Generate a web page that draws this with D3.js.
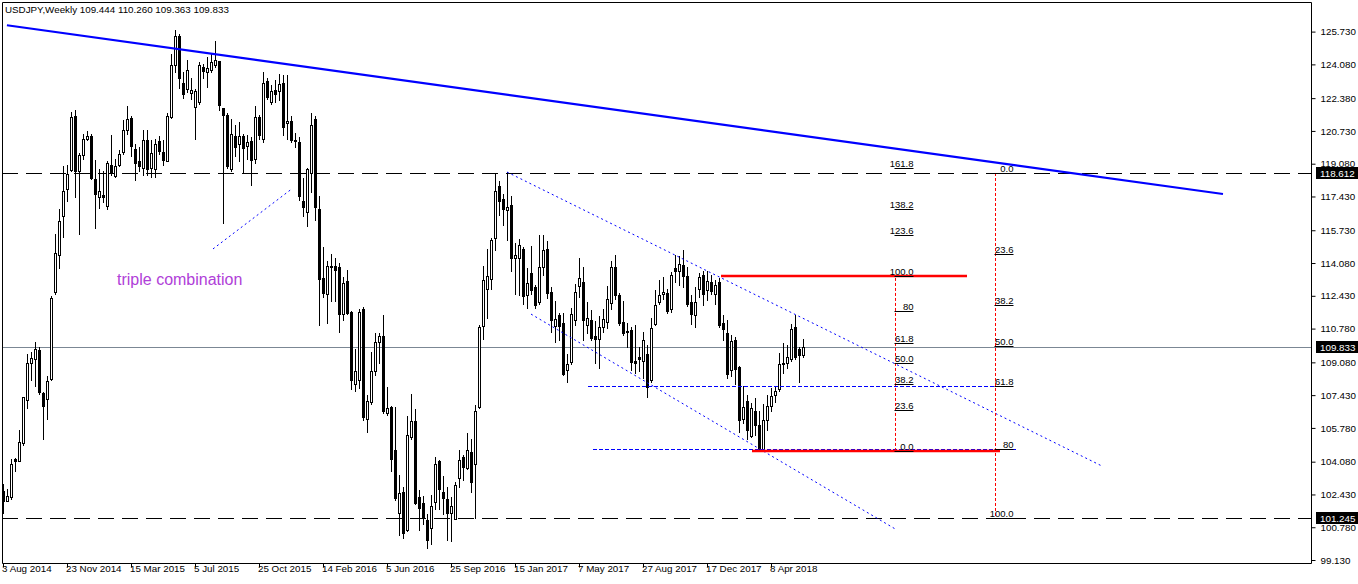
<!DOCTYPE html>
<html><head><meta charset="utf-8">
<script src="https://cdn.jsdelivr.net/npm/d3@7"></script>
<style>
html,body{margin:0;padding:0;background:#fff;}
svg text{font-family:"Liberation Sans",Arial,sans-serif;}
</style></head>
<body>
<svg id="chart" width="1358" height="584"></svg>
<script>
// ---------- data (weekly USDJPY, 3 Aug 2014 .. 3 Jun 2018) ----------
const open = [102.6,102.1,102.3,104.2,104.1,105.0,107.16,109.03,109.27,109.7,107.56,107.25,108.23,112.62,114.48,116.43,117.82,118.74,121.5,118.69,
119.5,120.3,120.45,118.29,117.42,117.5,116.95,119.03,118.48,119.03,119.69,120.77,121.37,119.8,119.2,118.86,120.28,118.85,118.82,120.2,
119.67,119.24,121.43,124.06,125.53,123.14,122.85,122.64,121.95,122.19,123.97,123.71,123.8,124.06,124.23,121.89,121.55,118.82,120.45,120.07,
120.45,119.95,120.2,119.34,121.45,120.33,123.23,122.19,122.8,122.76,123.14,121.11,121.23,120.28,120.16,117.18,116.66,118.6,121.32,116.78,
113.35,112.53,113.87,113.92,113.87,111.49,113.17,111.61,107.97,108.2,111.79,106.24,107.08,108.63,110.11,110.4,106.55,106.81,104.68,101.52,
102.56,100.66,105.3,106.15,102.3,102.01,101.14,100.74,102.04,104.09,102.56,102.18,101.52,101.21,103.26,104.33,103.78,104.56,103.95,106.81,
110.92,112.79,113.28,115.36,117.94,117.3,116.75,116.99,114.32,114.35,114.79,112.45,113.57,112.88,112.1,113.87,114.79,112.62,110.92,111.44,
111.06,108.72,109.1,111.23,112.93,113.1,110.97,111.2,110.4,110.28,110.85,111.09,112.06,113.87,112.45,111.09,110.68,110.71,109.15,109.33,
109.15,109.5,108.2,111.02,112.1,112.53,112.58,111.75,113.83,113.7,113.97,113.45,112.1,111.44,112.76,113.48,112.71,113.14,112.53,113.1,
111.06,110.54,108.72,110.23,108.84,106.23,107.11,105.37,106.64,105.94,104.64,106.2,106.9,107.45,107.73,109.07,109.07,109.24,110.85,109.76,
109.444];
const high = [102.95,102.7,104.2,104.25,105.7,107.35,109.5,109.6,110.1,109.85,107.6,108.37,112.44,115.56,116.78,118.95,119.0,121.67,121.8,119.64,
120.59,120.73,120.59,119.29,118.83,118.7,119.24,120.5,119.3,119.76,121.29,121.98,121.46,120.07,119.93,120.77,120.8,120.25,120.33,120.45,
120.25,121.63,124.58,125.83,125.62,123.71,124.32,123.37,122.85,124.2,124.1,124.44,124.67,125.24,124.27,121.89,121.63,121.32,121.03,121.2,
120.59,120.5,120.42,121.98,121.55,123.71,123.37,123.02,123.28,123.62,123.54,123.54,121.46,120.63,120.42,118.34,118.86,121.63,121.46,117.47,
114.87,114.18,114.53,114.35,114.09,113.4,113.74,111.67,109.76,111.75,111.89,107.42,109.59,110.54,110.54,111.44,107.85,106.9,106.81,103.4,
102.82,106.38,107.5,106.72,102.65,102.36,101.44,102.39,104.3,104.16,103.34,102.82,102.3,103.08,104.65,104.44,105.5,105.2,106.93,110.97,
113.92,114.79,115.36,118.6,118.2,117.56,118.65,117.47,115.08,115.31,114.87,113.83,114.96,112.97,115.48,115.48,115.19,112.88,112.19,111.58,
111.58,109.5,111.84,113.0,114.35,113.87,112.1,111.72,111.14,111.41,111.79,112.93,114.18,114.49,112.58,112.19,111.06,110.85,110.97,109.85,
110.62,109.93,111.32,112.71,113.23,113.4,112.79,113.62,114.47,114.44,114.73,113.87,112.45,112.88,113.57,113.7,113.66,113.48,113.23,113.35,
111.46,111.23,110.45,110.37,108.89,107.91,107.42,107.03,107.28,106.64,106.98,107.42,107.8,107.85,109.53,110.05,109.93,111.02,111.44,109.85,
110.26];
const low = [101.5,102.08,102.2,103.6,104.1,104.9,106.8,108.2,107.9,107.5,105.2,106.24,108.2,112.5,113.83,115.4,117.2,118.69,117.4,115.53,
119.3,120.25,118.3,115.83,116.87,117.16,116.81,118.51,118.43,118.95,119.55,120.59,119.47,118.25,118.72,118.5,118.5,118.42,118.42,119.55,
119.03,119.2,121.37,123.71,122.88,122.41,122.67,122.33,120.33,122.07,123.4,122.93,123.71,123.97,121.77,116.12,118.86,118.69,119.47,119.2,
118.6,119.3,118.03,119.12,120.33,120.16,122.36,122.07,122.19,122.29,120.5,120.33,120.16,119.93,117.27,116.47,115.95,117.65,116.26,110.97,
112.36,111.06,112.19,112.19,110.62,111.23,111.49,107.76,107.63,107.8,106.2,105.55,106.99,108.46,109.07,106.55,106.41,103.6,102.13,100.4,
100.23,100.57,105.2,101.96,100.66,100.92,99.71,99.96,101.7,101.7,101.44,100.14,100.1,101.18,102.82,103.17,103.69,102.56,101.26,106.76,
110.28,111.32,112.79,114.74,116.52,115.99,115.22,113.7,112.53,112.45,112.01,111.84,112.53,111.84,112.01,113.48,112.3,110.62,110.11,110.19,
108.45,108.11,108.98,110.97,112.36,110.23,110.54,110.19,109.07,108.8,110.62,110.8,111.79,112.27,110.97,110.45,109.85,108.72,108.55,108.63,
108.28,107.33,108.11,110.97,112.01,112.27,111.58,111.61,113.14,112.97,112.88,111.93,111.02,110.85,112.36,111.96,112.24,112.53,112.01,110.88,
110.19,108.28,108.37,107.97,105.55,106.03,105.2,105.3,105.42,104.6,104.6,105.65,106.64,107.07,107.63,108.55,108.8,109.15,109.24,108.08,
109.363];
const close = [102.1,102.34,103.95,104.09,105.08,107.33,109.03,109.29,109.76,107.6,106.86,108.15,112.3,114.56,116.22,117.73,118.57,121.41,118.69,119.5,
120.3,120.45,118.37,117.56,117.7,117.42,119.12,118.6,118.98,119.55,120.77,121.32,119.99,119.12,118.98,120.25,118.82,119.6,120.07,119.73,
119.29,121.5,124.06,125.53,123.37,122.59,123.8,122.81,122.73,124.06,123.75,123.92,124.2,124.28,122.02,121.55,118.95,120.56,119.93,120.45,
119.85,120.16,119.29,121.45,120.54,123.14,122.46,122.76,122.6,123.1,120.94,121.23,120.25,120.2,117.47,116.92,118.81,121.03,116.92,113.28,
112.58,113.92,113.92,113.75,111.49,113.05,111.58,108.2,108.67,111.61,106.34,107.11,108.63,110.11,110.4,106.64,106.76,104.2,102.25,102.51,
100.48,105.42,106.12,102.01,101.73,101.27,100.14,101.87,103.95,102.7,102.25,101.49,101.84,102.91,104.16,103.81,104.68,103.08,106.64,110.88,
113.23,113.45,115.22,117.73,117.21,116.78,116.92,114.32,114.49,115.01,112.4,113.05,112.71,111.96,113.87,114.74,112.58,111.2,111.27,110.92,
108.5,108.98,111.49,112.62,113.31,111.2,111.32,110.33,110.28,110.85,111.27,112.27,113.87,112.48,111.06,110.57,110.63,109.12,109.07,109.24,
110.19,107.85,110.8,111.96,112.48,112.62,111.66,113.48,113.66,114.01,113.45,112.01,111.49,112.14,113.4,112.53,113.19,112.66,112.97,110.97,
110.75,108.51,110.16,108.77,106.2,106.81,105.68,106.76,105.94,104.64,106.2,106.86,107.37,107.66,109.02,109.02,109.36,110.75,109.33,109.46,
109.833];
const dateTickIndex = [0,16,32,48,64,80,96,112,128,144,160,176,192];
const dateTickLabels = ["3 Aug 2014","23 Nov 2014","15 Mar 2015","5 Jul 2015","25 Oct 2015","14 Feb 2016","5 Jun 2016","25 Sep 2016","15 Jan 2017","7 May 2017","27 Aug 2017","17 Dec 2017","8 Apr 2018"];
const priceTicks = [125.73,124.08,122.38,120.73,119.08,117.43,115.73,114.08,112.43,110.78,109.08,107.43,105.78,104.08,102.43,100.78,99.13];
const markedPrices = [118.612,109.833,101.245];
const title = "USDJPY,Weekly  109.444 110.260 109.363 109.833";
// drawn objects, in (bar index, price)
const trendMain = [[0.98,126.05],[305,117.555]];
const tripleLine = [[52.5,114.79],[72.25,117.82]];
const channelUpper = [[126,118.66],[274.75,103.86]];
const channelLower = [[132,111.51],[223,100.7]];
const blueLevels = [[146.25,248,107.88],[147.5,253.25,104.72]];
const redLevels = [[179.5,241,113.43],[187.25,249.25,104.62]];
const fibA = {x:223, p0:104.62, p100:113.43, levels:[0,23.6,38.2,50,61.8,80,100,123.6,138.2,161.8]};
const fibB = {x:248, p0:118.612, p100:101.245, levels:[0,23.6,38.2,50,61.8,80,100]};
const noteText = "triple combination";
const noteAt = [28.5,112.97];

// ---------- geometry ----------
const L=2, R=1311, T=2, B=563;
const FS = "9.8px";
const svg = d3.select("#chart");
svg.append("rect").attr("width",1358).attr("height",584).attr("fill","#fff");
const yAnchor = d3.scaleLinear().domain([101.245,118.612]).range([518,173]);
const y = d3.scaleLinear().domain([yAnchor.invert(B), yAnchor.invert(T)]).range([B,T]);
const x = d3.scaleLinear().domain([0,200]).range([3,803]);
const s = v => Math.round(v)+0.5;
const P = d => [x(d[0]), y(d[1])];

const plot = svg.append("g");
// horizontal dashed black lines
[118.612,101.245].forEach(p=>{
  plot.append("line").attr("x1",L).attr("x2",R).attr("y1",s(y(p))).attr("y2",s(y(p)))
    .attr("stroke","#000").attr("stroke-dasharray","16,8").attr("stroke-width",1);
});
// bid line
plot.append("line").attr("x1",L).attr("x2",R).attr("y1",s(y(109.833))).attr("y2",s(y(109.833)))
  .attr("stroke","#7b8794").attr("stroke-width",1);

// candles
const n = open.length;
const cg = plot.append("g");
for(let i=0;i<n;i++){
  const cx = Math.round(x(i));
  cg.append("line").attr("x1",cx+0.5).attr("x2",cx+0.5).attr("y1",Math.round(y(high[i]))).attr("y2",Math.round(y(low[i]))+1)
    .attr("stroke","#000").attr("stroke-width",1);
  const bull = close[i]>=open[i];
  const yt = Math.round(y(Math.max(open[i],close[i]))), yb = Math.round(y(Math.min(open[i],close[i])));
  cg.append("rect").attr("x",cx-0.5).attr("y",yt+0.5).attr("width",2).attr("height",Math.max(yb-yt,0))
    .attr("fill",bull?"#fff":"#000").attr("stroke","#000").attr("stroke-width",1);
}

// drawn objects
const lineG = plot.append("g").attr("fill","none");
const seg = (a,b,col,w,dash)=>{
  const l = lineG.append("line").attr("x1",P(a)[0]).attr("y1",P(a)[1]).attr("x2",P(b)[0]).attr("y2",P(b)[1])
    .attr("stroke",col).attr("stroke-width",w);
  if(dash) l.attr("stroke-dasharray",dash);
  return l;
};
seg(trendMain[0],trendMain[1],"#0000ff",2.2,null);
seg(tripleLine[0],tripleLine[1],"#0000ff",1,"2,3");
seg(channelUpper[0],channelUpper[1],"#0000ff",1,"2,3");
seg(channelLower[0],channelLower[1],"#0000ff",1,"2,3");
blueLevels.forEach(d=>{
  lineG.append("line").attr("x1",x(d[0])).attr("x2",x(d[1])).attr("y1",s(y(d[2]))).attr("y2",s(y(d[2])))
    .attr("stroke","#0000ff").attr("stroke-width",1).attr("stroke-dasharray","4,2");
});
redLevels.forEach(d=>{
  lineG.append("line").attr("x1",x(d[0])).attr("x2",x(d[1])).attr("y1",Math.round(y(d[2]))).attr("y2",Math.round(y(d[2])))
    .attr("stroke","#ff0000").attr("stroke-width",2.4);
});
// fibs
[fibA,fibB].forEach(f=>{
  const fx = Math.round(x(f.x))+0.5;
  lineG.append("line").attr("x1",fx).attr("x2",fx).attr("y1",y(f.p0)).attr("y2",y(f.p100))
    .attr("stroke","#ff0000").attr("stroke-width",1).attr("stroke-dasharray","3,2");
  f.levels.forEach(lv=>{
    const p = f.p0 + (f.p100-f.p0)*lv/100;
    const yy = s(y(p));
    lineG.append("line").attr("x1",fx-1).attr("x2",fx+18).attr("y1",yy).attr("y2",yy)
      .attr("stroke","#000").attr("stroke-width",1);
    lineG.append("text").attr("x",fx+18).attr("y",yy-2).attr("text-anchor","end")
      .attr("font-size","9.5px").attr("fill","#000").attr("stroke","none")
      .text(lv===80?"80":d3.format(".1f")(lv));
  });
});
// note
plot.append("text").attr("x",x(noteAt[0])).attr("y",y(noteAt[1])).attr("font-size","16px")
  .attr("fill","#b040d8").text(noteText);

// ---------- axes ----------
const yAxis = d3.axisRight(y).tickValues(priceTicks).tickSize(4).tickSizeOuter(0).tickPadding(5)
  .tickFormat(d3.format(".3f"));
const ya = svg.append("g").attr("transform",`translate(${R+0.5},0)`).call(yAxis);
ya.select(".domain").remove();
ya.selectAll("text").attr("font-size",FS).attr("font-family","Liberation Sans, Arial, sans-serif").attr("fill","#000");
ya.selectAll("line").attr("stroke","#000");

const xAxis = d3.axisBottom(x).tickValues(dateTickIndex).tickSize(4).tickSizeOuter(0)
  .tickFormat((d,i)=>dateTickLabels[i]);
const xa = svg.append("g").attr("transform",`translate(0,${B+0.5})`).call(xAxis);
xa.select(".domain").remove();
xa.selectAll("text").attr("font-size",FS).attr("font-family","Liberation Sans, Arial, sans-serif")
  .attr("text-anchor","start").attr("dx","-1.5").attr("dy","0.2em").attr("fill","#000");
xa.selectAll("line").attr("stroke","#000");

// frame
svg.append("path").attr("d",`M${L+0.5},${B+0.5}V${T+0.5}H${R+0.5}V${B+0.5}H${L+0.5}`)
  .attr("fill","none").attr("stroke","#000").attr("stroke-width",1);

// marked price labels
markedPrices.forEach(p=>{
  const yy = Math.round(y(p));
  svg.append("rect").attr("x",R+5).attr("y",yy-6).attr("width",1358-R-5).attr("height",12).attr("fill","#000");
  svg.append("text").attr("x",R+9).attr("y",yy+3.5).attr("font-size",FS).attr("fill","#fff").text(d3.format(".3f")(p));
});

// title
svg.append("text").attr("x",5).attr("y",13).attr("font-size",FS).attr("fill","#000").text(title);
</script>
</body></html>
